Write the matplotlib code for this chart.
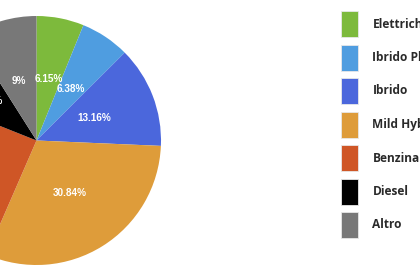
import matplotlib.pyplot as plt
from matplotlib.patches import Rectangle
import numpy as np

categorie = ['Elettriche', 'Ibrido Plug-in', 'Ibrido', 'Mild Hybrid', 'Benzina', 'Diesel', 'Altro']
quote = [6.15, 6.38, 13.16, 30.84, 24.51, 9.96, 9.0]
etichette = ['6.15%', '6.38%', '13.16%', '30.84%', '24.51%', '9.96%', '9%']
colori = ['#7dba3c', '#4f9de0', '#4b67dc', '#de9c3a', '#cf5626', '#000000', '#787878']

fig = plt.figure(figsize=(4.2, 2.8), dpi=100)

# torta, tagliata a sinistra come nell'immagine originale
ax = fig.add_axes([-88 / 420, 15 / 280, 249 / 420, 249 / 280])
wedges, _ = ax.pie(quote, colors=colori, startangle=90, counterclock=False,
                   radius=1, wedgeprops={'linewidth': 0})
ax.set_xlim(-1, 1)
ax.set_ylim(-1, 1)
ax.set_aspect('equal')

for w, txt in zip(wedges, etichette):
    ang = np.deg2rad((w.theta1 + w.theta2) / 2)
    ax.text(0.5 * np.cos(ang), 0.5 * np.sin(ang), txt, ha='center', va='center',
            color='white', fontsize=7.2, fontweight='bold', family='Liberation Sans')

# legenda a destra
lg = fig.add_axes([0, 0, 1, 1])
lg.set_xlim(0, 420)
lg.set_ylim(280, 0)
lg.axis('off')
for i, (nome, col) in enumerate(zip(categorie, colori)):
    y = 24 + i * 33.5
    lg.add_patch(Rectangle((340.5, y - 13), 17, 26, facecolor=col, edgecolor='#e8e8e8', linewidth=0.6))
    lg.text(372.5, y, nome, ha='left', va='center', fontsize=8.6, fontweight='bold',
            color='#2a2a2a', family='Open Sans')

fig.savefig('out.png', dpi=100)
